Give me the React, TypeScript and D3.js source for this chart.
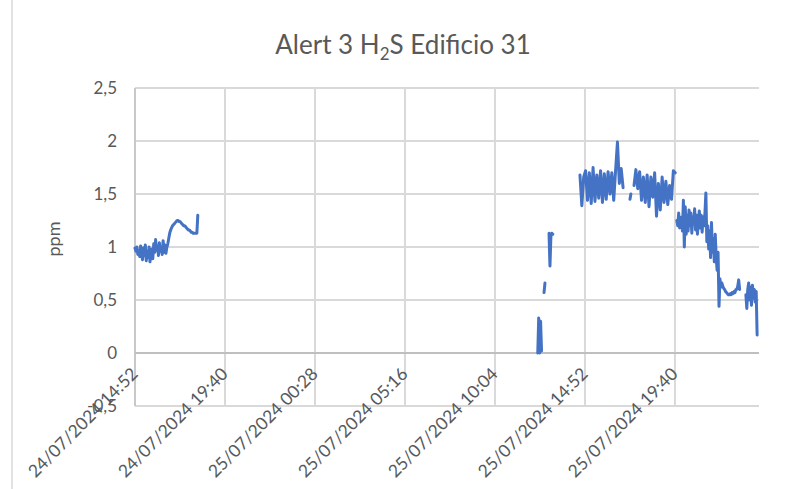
import React, { useEffect, useRef } from "react";
import * as d3 from "d3";

// x tick labels (every 4h48m)
const xTickLabels = [
  "24/07/2024 14:52",
  "24/07/2024 19:40",
  "25/07/2024 00:28",
  "25/07/2024 05:16",
  "25/07/2024 10:04",
  "25/07/2024 14:52",
  "25/07/2024 19:40",
];
const yTicks = [-0.5, 0, 0.5, 1, 1.5, 2, 2.5];

// sensor log pieces: start time, sampling step (minutes), readings
const segmentStarts = [
  "24/07/2024 14:52",
  "25/07/2024 12:21",
  "25/07/2024 12:41",
  "25/07/2024 12:57",
  "25/07/2024 14:36",
  "25/07/2024 17:16",
  "25/07/2024 17:29",
  "25/07/2024 19:46",
  "25/07/2024 23:27",
];
const segmentSteps = [3, 3, 3, 3, 6, 3, 6, 3, 3];

const seg1 = [
  0.99, 0.96, 1.0, 0.93, 0.97, 0.91, 1.01, 0.95, 0.88, 0.99, 0.92, 1.02, 0.87, 0.96, 0.9, 1.0, 0.86, 0.94,
  0.98, 0.89, 1.03, 0.95, 1.07, 0.97, 1.01, 0.92, 1.04, 0.96, 0.99, 0.93, 1.06, 0.95, 1.02, 0.94, 1.0,
  1.03, 1.08, 1.13, 1.16, 1.18, 1.2, 1.21, 1.22, 1.23, 1.24, 1.25,
  1.25, 1.24, 1.24, 1.23, 1.22, 1.21, 1.2, 1.2, 1.19, 1.18, 1.17, 1.16, 1.16, 1.15, 1.14, 1.14, 1.13, 1.13,
  1.13, 1.13, 1.13, 1.3,
];
const seg2 = [0.0, 0.33, 0.0, 0.3, 0.02];
const seg3 = [0.57, 0.66];
const seg4 = [1.13, 0.82, 1.1, 1.13, 1.12];
const seg5 = [
  1.68, 1.39, 1.66, 1.72, 1.44, 1.7, 1.41, 1.75, 1.43, 1.68, 1.46, 1.72, 1.42, 1.69, 1.45, 1.71, 1.5, 1.7,
  1.44, 1.72, 1.99, 1.6, 1.74, 1.56,
];
const seg6 = [1.45, 1.5];
const seg7 = [
  1.58, 1.73, 1.55, 1.71, 1.44, 1.66, 1.42, 1.68, 1.38, 1.66, 1.47, 1.7, 1.29, 1.6, 1.35, 1.66, 1.42, 1.62,
  1.4, 1.58, 1.45, 1.72, 1.7,
];
const seg8 = [
  1.25, 1.2, 1.32, 1.18, 1.22, 1.28, 1.15,
  1.44, 1.0, 1.38, 1.12,
  1.3, 1.15, 1.35, 1.2, 1.32, 1.13, 1.28, 1.22, 1.36, 1.16, 1.3, 1.12, 1.26, 1.34, 1.18, 1.3, 1.14, 1.28, 1.2, 1.32,
  1.51, 1.05, 1.2,
  0.98, 1.15, 0.9, 1.23, 0.95, 1.08, 0.86, 1.12, 0.9,
  0.78, 0.95, 0.44, 0.7, 0.62,
  0.66, 0.63, 0.61, 0.6, 0.58, 0.57, 0.56, 0.55, 0.55, 0.56, 0.55, 0.57, 0.56, 0.58, 0.57, 0.6, 0.6, 0.63,
  0.69, 0.6,
];
const seg9 = [0.55, 0.42, 0.6, 0.66, 0.5, 0.62, 0.45, 0.64, 0.52, 0.6, 0.48, 0.58, 0.17];

const segValues = [seg1, seg2, seg3, seg4, seg5, seg6, seg7, seg8, seg9];

const parse = d3.timeParse("%d/%m/%Y %H:%M");
const FONT = "Lato, 'Open Sans', sans-serif";
const TEXT = "#595959";

const App = () => {
  const ref = useRef<SVGSVGElement>(null);

  useEffect(() => {
    const svg = d3.select(ref.current);
    svg.selectAll("*").remove();

    const width = 787;
    const height = 489;
    const margin = { top: 88, right: 28, bottom: 83, left: 135 };

    const x = d3
      .scaleTime()
      .domain([parse("24/07/2024 14:52")!, parse("26/07/2024 00:09")!])
      .range([margin.left, width - margin.right]);
    const y = d3.scaleLinear().domain([-0.5, 2.5]).range([height - margin.bottom, margin.top]);

    // chart border (left edge visible)
    svg
      .append("line")
      .attr("x1", 12)
      .attr("x2", 12)
      .attr("y1", 0)
      .attr("y2", height)
      .attr("stroke", "#d9d9d9")
      .attr("stroke-width", 1.5);

    const tickDates = xTickLabels.map(d => parse(d)!);

    // gridlines
    svg
      .append("g")
      .selectAll("line")
      .data(yTicks.filter(d => d !== 0))
      .join("line")
      .attr("x1", margin.left)
      .attr("x2", width - margin.right)
      .attr("y1", d => y(d))
      .attr("y2", d => y(d))
      .attr("stroke", "#d9d9d9")
      .attr("stroke-width", 2);

    svg
      .append("g")
      .selectAll("line")
      .data(tickDates.slice(1))
      .join("line")
      .attr("x1", d => x(d))
      .attr("x2", d => x(d))
      .attr("y1", margin.top)
      .attr("y2", height - margin.bottom)
      .attr("stroke", "#d9d9d9")
      .attr("stroke-width", 2);

    // axes lines
    svg
      .append("line")
      .attr("x1", margin.left)
      .attr("x2", margin.left)
      .attr("y1", margin.top)
      .attr("y2", height - margin.bottom)
      .attr("stroke", "#c8c8c8")
      .attr("stroke-width", 2);
    svg
      .append("line")
      .attr("x1", margin.left)
      .attr("x2", width - margin.right)
      .attr("y1", y(0))
      .attr("y2", y(0))
      .attr("stroke", "#bfbfbf")
      .attr("stroke-width", 2);

    // y labels
    svg
      .append("g")
      .selectAll("text")
      .data(yTicks)
      .join("text")
      .attr("x", 117)
      .attr("y", d => y(d))
      .attr("dy", "0.35em")
      .attr("text-anchor", "end")
      .attr("font-family", FONT)
      .attr("font-size", 17)
      .attr("fill", TEXT)
      .text(d => String(d).replace(".", ","));

    // x labels
    svg
      .append("g")
      .selectAll("text")
      .data(tickDates)
      .join("text")
      .attr("transform", (d: Date) => `translate(${x(d) + 4},${y(0) + 22}) rotate(-45)`)
      .attr("text-anchor", "end")
      .attr("font-family", FONT)
      .attr("font-size", 17.5)
      .attr("fill", TEXT)
      .text((_, i) => xTickLabels[i]);

    // series
    const line = d3
      .line<{ t: Date; v: number }>()
      .x(d => x(d.t))
      .y(d => y(d.v));

    segValues.forEach((vals, i) => {
      const start = parse(segmentStarts[i])!;
      const pts = vals.map((v, j) => ({ t: d3.timeMinute.offset(start, j * segmentSteps[i]), v }));
      svg
        .append("path")
        .datum(pts)
        .attr("d", line)
        .attr("fill", "none")
        .attr("stroke", "#4472C4")
        .attr("stroke-width", 3)
        .attr("stroke-linejoin", "round")
        .attr("stroke-linecap", "round");
    });

    // axis title
    svg
      .append("text")
      .attr("transform", `translate(60,${(margin.top + height - margin.bottom) / 2 - 8}) rotate(-90)`)
      .attr("text-anchor", "middle")
      .attr("font-family", FONT)
      .attr("font-size", 18)
      .attr("fill", TEXT)
      .text("ppm");

    // title
    const title = svg
      .append("text")
      .attr("x", 403)
      .attr("y", 54)
      .attr("text-anchor", "middle")
      .attr("font-family", FONT)
      .attr("font-size", 26)
      .attr("fill", TEXT);
    title.append("tspan").text("Alert 3 H");
    title.append("tspan").attr("dy", 6).attr("font-size", 17).text("2");
    title.append("tspan").attr("dy", -6).text("S Edificio 31");
  }, []);

  return (
    <svg
      ref={ref}
      width={787}
      height={489}
      style={{ position: "absolute", left: 0, top: 0, background: "#fff" }}
    />
  );
};

export default App;
